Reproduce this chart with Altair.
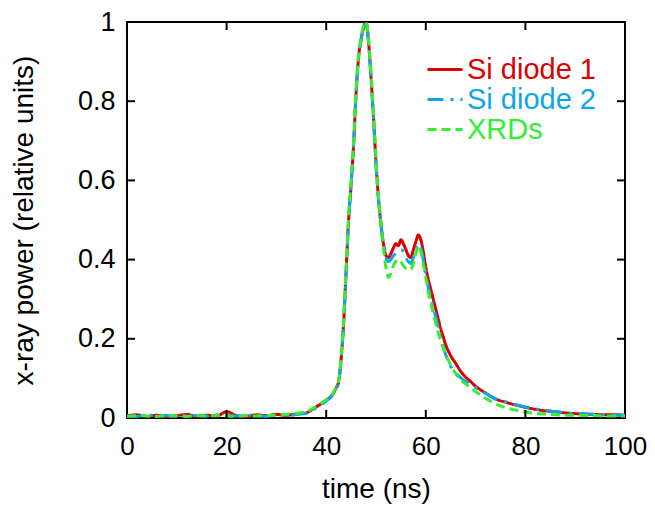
import altair as alt
import pandas as pd

times = [0, 2, 4, 6, 8, 10, 12, 14, 16, 18, 20, 22, 24, 26, 28, 30, 32, 34, 36,
         37, 38, 39, 40, 41, 42,
         42.5, 43, 43.5, 44, 44.5, 45, 45.5, 46, 46.5, 47,
         47.5, 48, 48.5, 49, 49.5, 50, 50.5, 51, 51.5, 52,
         52.5, 53, 53.5, 54, 54.5, 55, 55.5, 56, 56.5, 57,
         57.5, 58, 58.5, 59, 59.5, 60, 60.5, 61, 61.5, 62,
         62.5, 63, 63.5, 64, 64.5, 65,
         66, 67, 68, 69, 70, 71, 72,
         74, 76, 78, 80, 82, 84, 86, 88, 90, 92, 94, 96, 98, 100]

si_diode_1 = [0.005, 0.008, 0.004, 0.007, 0.003, 0.006, 0.009, 0.004, 0.007, 0.005,
              0.016, 0.006, 0.004, 0.008, 0.006, 0.009, 0.007, 0.010, 0.013,
              0.020, 0.028, 0.036, 0.045, 0.055, 0.076,
              0.092, 0.15, 0.24, 0.37, 0.50, 0.59, 0.69, 0.82, 0.91, 0.955,
              0.985, 1.0, 0.95, 0.86, 0.76, 0.645, 0.555, 0.49, 0.44, 0.41,
              0.405, 0.415, 0.43, 0.44, 0.435, 0.45, 0.44, 0.425, 0.41, 0.405,
              0.425, 0.445, 0.462, 0.45, 0.42, 0.38, 0.35, 0.325, 0.30, 0.275,
              0.25, 0.225, 0.205, 0.185, 0.17, 0.157,
              0.138, 0.118, 0.103, 0.092, 0.080, 0.071, 0.063,
              0.048, 0.040, 0.033, 0.027, 0.022, 0.018, 0.016, 0.013, 0.011, 0.010,
              0.009, 0.008, 0.008, 0.007]

si_diode_2 = [0.006, 0.004, 0.008, 0.005, 0.006, 0.004, 0.007, 0.006, 0.005, 0.008,
              0.006, 0.005, 0.007, 0.006, 0.004, 0.008, 0.006, 0.009, 0.012,
              0.018, 0.026, 0.034, 0.043, 0.053, 0.074,
              0.09, 0.148, 0.24, 0.37, 0.50, 0.59, 0.69, 0.82, 0.91, 0.955,
              0.985, 1.0, 0.95, 0.86, 0.755, 0.64, 0.55, 0.485, 0.435, 0.405,
              0.395, 0.40, 0.41, 0.415, 0.42, 0.425, 0.42, 0.405, 0.395, 0.39,
              0.405, 0.425, 0.44, 0.43, 0.40, 0.36, 0.33, 0.305, 0.28, 0.255,
              0.23, 0.205, 0.18, 0.16, 0.143, 0.13,
              0.113, 0.102, 0.092, 0.085, 0.077, 0.069, 0.062,
              0.048, 0.041, 0.034, 0.028, 0.023, 0.019, 0.016, 0.013, 0.011, 0.010,
              0.009, 0.008, 0.007, 0.007]

xrds = [0.004, 0.006, 0.005, 0.004, 0.006, 0.005, 0.004, 0.006, 0.005, 0.006,
        0.005, 0.004, 0.006, 0.005, 0.006, 0.007, 0.009, 0.012, 0.016,
        0.022, 0.030, 0.038, 0.046, 0.056, 0.078,
        0.095, 0.155, 0.25, 0.38, 0.51, 0.60, 0.70, 0.83, 0.915, 0.96,
        0.99, 1.0, 0.955, 0.87, 0.77, 0.655, 0.56, 0.49, 0.43, 0.38,
        0.355, 0.365, 0.385, 0.395, 0.40, 0.395, 0.385, 0.378, 0.375, 0.375,
        0.39, 0.415, 0.435, 0.42, 0.39, 0.355, 0.32, 0.29, 0.265, 0.24,
        0.215, 0.195, 0.178, 0.16, 0.147, 0.134,
        0.112, 0.097, 0.086, 0.077, 0.067, 0.058, 0.050,
        0.036, 0.026, 0.020, 0.015, 0.012, 0.010, 0.008, 0.007, 0.007, 0.006,
        0.006, 0.005, 0.005, 0.005]

series_names = ["Si diode 1", "Si diode 2", "XRDs"]
series_colors = ["#dd0000", "#0ea5e9", "#33ee33"]
series_dashes = [[1, 0], [16, 7, 3, 7], [9, 5]]

x_ticks = [0, 20, 40, 60, 80, 100]
y_ticks = [0, 0.2, 0.4, 0.6, 0.8, 1]
x_inner_ticks = [20, 40, 60, 80]
y_inner_ticks = [0.2, 0.4, 0.6, 0.8]

rows = []
for name, vals in zip(series_names, [si_diode_1, si_diode_2, xrds]):
    for t, v in zip(times, vals):
        rows.append({"time": t, "power": v, "series": name})
df = pd.DataFrame(rows)

W, H = 498, 396
FONT = "Liberation Sans"

xscale = alt.Scale(domain=[0, 100], nice=False, zero=False)
yscale = alt.Scale(domain=[0, 1], nice=False)

xaxis = alt.Axis(values=x_ticks, title="time (ns)", ticks=False, domain=False,
                 grid=False, labelFontSize=26, titleFontSize=28, labelFlush=False,
                 labelPadding=15, titlePadding=16, labelFont=FONT, titleFont=FONT,
                 labelColor="black", titleColor="black", titleFontWeight="normal")
yaxis = alt.Axis(values=y_ticks, format="~g", title="x-ray power (relative units)",
                 ticks=False, domain=False, grid=False, labelFontSize=27, labelFlush=False,
                 titleFontSize=28, labelPadding=12, titlePadding=39,
                 labelFont=FONT, titleFont=FONT, labelColor="black",
                 titleColor="black", titleFontWeight="normal")

label_color_expr = ("datum.value === 'Si diode 1' ? '%s' : datum.value === 'Si diode 2' ? '%s' : '%s'"
                    % tuple(series_colors))
legend = alt.Legend(title=None, orient="none", legendX=299, legendY=33,
                    labelFontSize=29, labelFont=FONT,
                    labelColor={"expr": label_color_expr},
                    symbolType="stroke", symbolStrokeWidth=3, clipHeight=29,
                    symbolSize=1225, labelOffset=3, rowPadding=0)

lines = alt.Chart(df).mark_line(strokeWidth=3, clip=True, interpolate="monotone").encode(
    x=alt.X("time:Q", scale=xscale, axis=xaxis),
    y=alt.Y("power:Q", scale=yscale, axis=yaxis),
    color=alt.Color("series:N", scale=alt.Scale(domain=series_names, range=series_colors),
                    legend=legend),
    strokeDash=alt.StrokeDash("series:N",
                              scale=alt.Scale(domain=series_names, range=series_dashes),
                              legend=legend),
    order=alt.Order("series:N"),
)

xt = pd.DataFrame({"time": x_inner_ticks})
yt = pd.DataFrame({"power": y_inner_ticks})
TL = 8

tick_bottom = alt.Chart(xt).mark_rule(color="black", strokeWidth=2).encode(
    x=alt.X("time:Q", scale=xscale, axis=xaxis), y=alt.value(H), y2=alt.value(H - TL))
tick_top = alt.Chart(xt).mark_rule(color="black", strokeWidth=2).encode(
    x=alt.X("time:Q", scale=xscale, axis=xaxis), y=alt.value(0), y2=alt.value(TL))
tick_left = alt.Chart(yt).mark_rule(color="black", strokeWidth=2).encode(
    y=alt.Y("power:Q", scale=yscale, axis=yaxis), x=alt.value(0), x2=alt.value(TL))
tick_right = alt.Chart(yt).mark_rule(color="black", strokeWidth=2).encode(
    y=alt.Y("power:Q", scale=yscale, axis=yaxis), x=alt.value(W), x2=alt.value(W - TL))

chart = alt.layer(lines, tick_bottom, tick_top, tick_left, tick_right).properties(
    width=W, height=H,
    autosize=alt.AutoSizeParams(type="none"),
    padding={"left": 119, "top": 14, "right": 22, "bottom": 86},
    background="white",
).configure_view(stroke="black", strokeWidth=2)

chart.save("out.html", embed_options={"renderer": "svg", "actions": False})
